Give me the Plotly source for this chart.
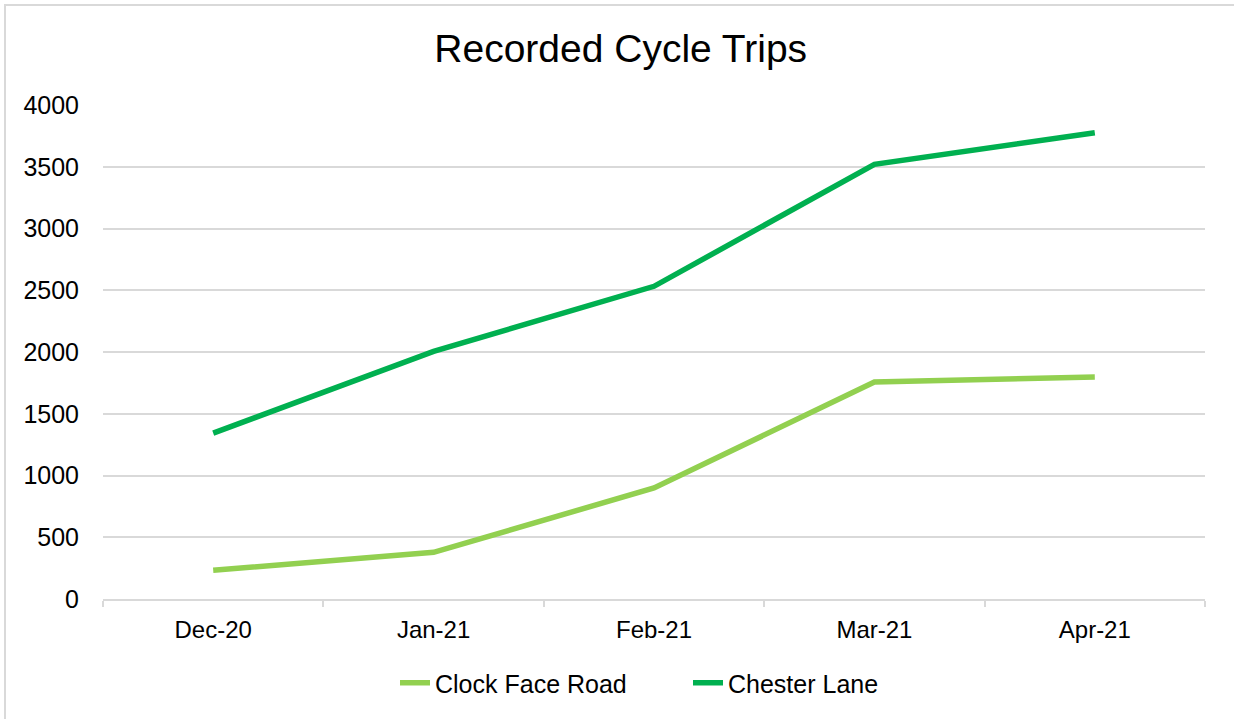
import plotly.graph_objects as go

months = ["Dec-20", "Jan-21", "Feb-21", "Mar-21", "Apr-21"]
clock_face_road = [232, 378, 899, 1757, 1797]
chester_lane = [1343, 2005, 2532, 3520, 3776]
y_ticks = [0, 500, 1000, 1500, 2000, 2500, 3000, 3500, 4000]

W, H = 1234, 719
L, R, T, B = 103, 29, 105, 120
pw, ph = W - L - R, H - T - B

def px_to_paper_x(px):
    return (px - L) / pw

def px_to_paper_y(py):
    return (H - B - py) / ph

fig = go.Figure()
fig.add_trace(go.Scatter(x=months, y=clock_face_road, mode="lines", name="Clock Face Road",
                         line=dict(color="#92D050", width=5.5)))
fig.add_trace(go.Scatter(x=months, y=chester_lane, mode="lines", name="Chester Lane",
                         line=dict(color="#00B050", width=5.5)))

fig.update_layout(
    width=W, height=H,
    margin=dict(l=L, r=R, t=T, b=B),
    paper_bgcolor="white", plot_bgcolor="white",
    font=dict(family="Liberation Sans, Arial, sans-serif", size=24, color="#000000"),
    title=dict(text="Recorded Cycle Trips", x=0.503, xanchor="center", xref="container",
               y=1 - 48 / H, yanchor="middle", yref="container",
               font=dict(size=39, color="#000000")),
    showlegend=True,
    legend=dict(orientation="h", x=px_to_paper_x(688), xanchor="center",
                y=px_to_paper_y(683), yanchor="middle",
                font=dict(size=25), entrywidth=248, entrywidthmode="pixels"),
    xaxis=dict(type="category", range=[-0.5, len(months) - 0.5], showgrid=False,
               showline=True, linecolor="#d9d9d9", linewidth=1.5,
               ticks="outside", tickson="boundaries", ticklen=6, tickwidth=1.5, tickcolor="#d9d9d9",
               ticklabelstandoff=8, tickfont=dict(size=24), fixedrange=True),
    yaxis=dict(range=[0, 4000], tickvals=y_ticks, showgrid=True, gridcolor="#d9d9d9", gridwidth=1.5,
               zeroline=False, showline=False, ticks="", ticklabelstandoff=23,
               tickfont=dict(size=25), fixedrange=True),
    shapes=[dict(type="rect", xref="paper", yref="paper",
                 x0=px_to_paper_x(5), x1=px_to_paper_x(W + 20),
                 y0=px_to_paper_y(H + 20), y1=px_to_paper_y(5),
                 line=dict(color="#d9d9d9", width=2), layer="below")],
)

fig.write_html("out.html", config={"displayModeBar": False},
               post_script="document.body.style.margin='0';document.body.style.overflow='hidden';")
